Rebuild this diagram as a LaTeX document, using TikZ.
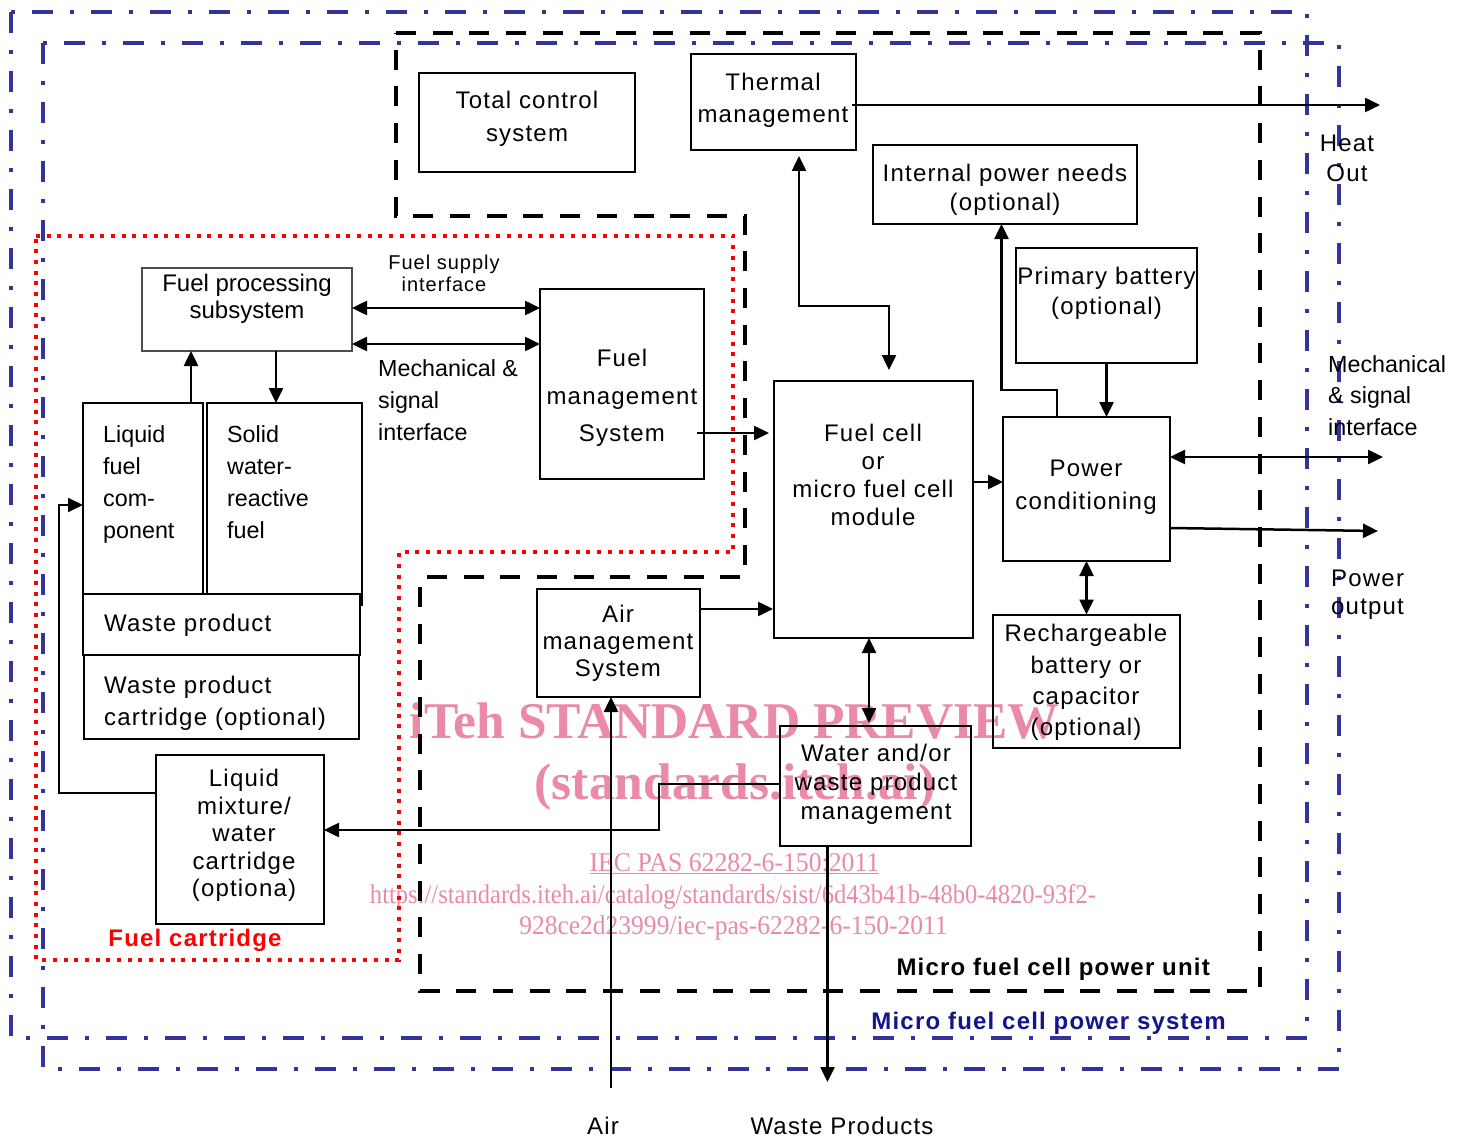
\documentclass[tikz,border=0pt]{standalone}
\usepackage{graphicx}
\usepackage{fontspec}
\setmainfont{Liberation Sans}[LetterSpace=5]
\newfontfamily\plainsf{Liberation Sans}
\newfontfamily\wmfont{Liberation Serif}
\usetikzlibrary{arrows.meta}
\definecolor{sysblue}{RGB}{51,51,153}
\definecolor{labelblue}{RGB}{20,20,140}
\definecolor{wmpink}{RGB}{234,138,168}
\definecolor{cartred}{RGB}{255,0,0}
\begin{document}
\begin{tikzpicture}[x=1pt,y=-1pt,
  box/.style={draw, line width=2pt, inner sep=0pt, outer sep=0pt},
  lbl/.style={inner sep=0pt, align=center, font=\fontsize{24}{#1}\selectfont},
  lbl/.default=32,
  lbll/.style={inner sep=0pt, align=left, font=\fontsize{24}{#1}\selectfont},
  lbll/.default=32,
  plbl/.style={inner sep=0pt, align=left, font=\plainsf\fontsize{23.3}{#1}\selectfont},
  plbl/.default=32,
  boldlbl/.style={inner sep=0pt, font=\bfseries\fontsize{24}{28}\selectfont},
  wmark/.style={inner sep=0pt, text=wmpink, anchor=base},
  arr/.style={line width=2.5pt, -{Triangle[length=15pt,width=14pt]}},
  dbl/.style={line width=2.5pt, {Triangle[length=15pt,width=14pt]}-{Triangle[length=15pt,width=14pt]}},
  sysline/.style={draw=sysblue, line width=4pt, dash pattern=on 21pt off 17pt on 4pt off 17pt},
  unitline/.style={draw=black, line width=4.5pt, dash pattern=on 20pt off 16.7pt},
  cartline/.style={draw=cartred, line width=4pt, dash pattern=on 4pt off 6.7pt}
]
\useasboundingbox (0,0) rectangle (1460,1137);
\fill[white] (0,0) rectangle (1460,1137);

% watermark
\node[wmark, font=\wmfont\bfseries\fontsize{51.5}{51.5}\selectfont] (wm1) at (734.5,738.5) {iTeh STANDARD PREVIEW};
\node[wmark, font=\wmfont\bfseries\fontsize{51.5}{51.5}\selectfont] (wm2) at (735,799) {(standards.iteh.ai)};
\node[wmark, font=\wmfont\fontsize{27}{27}\selectfont] (wm3) at (734.5,871) {\scalebox{0.953}[1]{\underline{IEC PAS 62282-6-150:2011}}};
\node[wmark, font=\wmfont\fontsize{27}{27}\selectfont] (wm4) at (733,903) {\scalebox{0.91}[1]{https://standards.iteh.ai/catalog/standards/sist/6d43b41b-48b0-4820-93f2-}};
\node[wmark, font=\wmfont\fontsize{27}{27}\selectfont] (wm5) at (733.5,934) {\scalebox{0.945}[1]{928ce2d23999/iec-pas-62282-6-150-2011}};

% boundaries
\draw[sysline] (11,12) rectangle (1307,1038);
\draw[sysline] (43,43) rectangle (1339,1069);
\draw[unitline] (396,33) -- (1260,33) -- (1260,991) -- (420,991) -- (420,577) -- (745,577) -- (745,216) -- (396,216) -- cycle;
\draw[cartline] (36,236) -- (733,236) -- (733,552) -- (399,552) -- (399,960) -- (36,960) -- cycle;

% boxes
\node[box, minimum width=216pt, minimum height=99pt] (tcs) at (527,122.5) {};
\node[box, minimum width=165pt, minimum height=96pt] (tm) at (773.5,102) {};
\node[box, minimum width=264pt, minimum height=79pt] (ipn) at (1005,184.5) {};
\node[box, minimum width=181pt, minimum height=115pt] (pb) at (1106.5,305.5) {};
\node[box, draw=black!70, line width=1.5pt, minimum width=210pt, minimum height=83pt] (fps) at (247,309.5) {};
\node[box, minimum width=164pt, minimum height=190pt] (fms) at (622,384) {};
\node[box, minimum width=199pt, minimum height=257pt] (fc) at (873.5,509.5) {};
\node[box, minimum width=167pt, minimum height=144pt] (pc) at (1086.5,489) {};
\node[box, minimum width=187pt, minimum height=133pt] (rb) at (1086.5,681) {};
\node[box, minimum width=163pt, minimum height=108pt] (ams) at (618.5,643) {};
\node[box, minimum width=191pt, minimum height=120pt] (wm) at (875.5,786) {};
\node[box, minimum width=120pt, minimum height=191pt] (lf) at (143,498.5) {};
\node[box, minimum width=155pt, minimum height=191pt] (sf) at (284.5,498.5) {};
\node[box, minimum width=277pt, minimum height=61pt] (wp) at (221.5,624.5) {};
\node[box, minimum width=275pt, minimum height=84pt] (wpc) at (221.5,697) {};
\node[box, minimum width=168pt, minimum height=169pt] (lm) at (240,839.5) {};
\draw[line width=2pt] (sf.south east) -- ++(0,12);

% box texts
\node[lbl=33] (tcs-t) at (527,119) {Total control\\system};
\node[lbl=32] (tm-t) at (773,100) {Thermal\\management};
\node[lbl=29] (ipn-t) at (1005,190) {Internal power needs\\(optional)};
\node[lbl=30] (pb-t) at (1106.5,293.5) {Primary battery\\(optional)};
\node[inner sep=0pt, align=center, font=\plainsf\fontsize{24}{27}\selectfont] (fps-t) at (247,299) {Fuel processing\\subsystem};
\node[lbl=37.5] (fms-t) at (622,398) {Fuel\\management\\System};
\node[lbl=28] (fc-t) at (873,475) {Fuel cell\\or\\micro fuel cell\\module};
\node[lbl=33] (pc-t) at (1086,487) {Power\\conditioning};
\node[lbl=31.3] (rb-t) at (1086,682.5) {Rechargeable\\battery or\\capacitor\\(optional)};
\node[lbl=27] (ams-t) at (618,643.5) {Air\\management\\System};
\node[lbl=29] (wm-t) at (876,784.5) {Water and/or\\waste product\\management};
\node[lbl=27.5] (lm-t) at (244,835.5) {Liquid\\mixture/\\water\\cartridge\\(optiona)};
\node[plbl=32, anchor=west] (lf-t) at (103,484.5) {Liquid\\fuel\\com-\\ponent};
\node[plbl=32, anchor=west] (sf-t) at (227,482) {Solid\\water-\\reactive\\fuel};
\node[lbll, anchor=base west] (wp-t) at (104,631.5) {Waste product};
\node[lbll=32, anchor=west] (wpc-t) at (104,703.5) {Waste product\\cartridge (optional)};

% outside labels
\node[lbl=30] (heat-t) at (1347,158) {Heat\\Out};
\node[plbl=31.5, anchor=west] (mech-r) at (1328,395.5) {Mechanical\\\& signal\\interface};
\node[lbll=28, anchor=west] (pout-t) at (1331,594.5) {Power\\output};
\node[inner sep=0pt, align=center, font=\fontsize{20}{22}\selectfont] (fsi-t) at (444,273) {Fuel supply\\interface};
\node[plbl=32, anchor=west] (mech-l) at (378,400) {Mechanical \&\\signal\\interface};
\node[lbl, anchor=base] (air-t) at (603,1134) {Air};
\node[lbl, anchor=base] (waste-t) at (842,1134.5) {Waste Products};
\node[boldlbl, anchor=base, text=cartred] (fcart) at (195,946.5) {Fuel cartridge};
\node[boldlbl, anchor=base east] (mfcpu) at (1210,975.5) {Micro fuel cell power unit};
\node[boldlbl, anchor=base east, text=labelblue] (mfcps) at (1226,1029.5) {Micro fuel cell power system};

% connectors
\coordinate (heat) at (1380,105);
\draw[arr, shorten <=-4pt] (tm.east |- heat) -- (heat);
\coordinate (t2a) at (799,306); \coordinate (t2b) at (889,306);
\draw[dbl, shorten <=6pt, shorten >=11pt] (tm.south -| t2a) -- (t2a) -- (t2b) -- (fc.north -| t2b);
\coordinate (t3a) at (1057,390); \coordinate (t3b) at (1001.5,390);
\draw[arr] (pc.north -| t3a) -- (t3a) -- (t3b) -- (ipn.south -| t3b);
\draw[arr] (pb.south) -- (pb.south |- pc.north);
\coordinate (t5) at (0,482);
\draw[arr] (fc.east |- t5) -- (pc.west |- t5);
\coordinate (mechout) at (1383,457);
\draw[dbl] (pc.east |- mechout) -- (mechout);
\coordinate (t7) at (0,528); \coordinate (powout) at (1378,531);
\draw[arr] (pc.east |- t7) -- (powout);
\draw[dbl] (pc.south) -- (rb.north);
\coordinate (t9) at (0,433);
\draw[arr, shorten <=-7pt, shorten >=5pt] (fms.east |- t9) -- (fc.west |- t9);
\coordinate (t10a) at (0,308); \coordinate (t10b) at (0,344);
\draw[dbl] (fps.east |- t10a) -- (fms.west |- t10a);
\draw[dbl] (fps.east |- t10b) -- (fms.west |- t10b);
\coordinate (t11) at (191,0);
\draw[arr] (lf.north -| t11) -- (fps.south -| t11);
\coordinate (t12) at (276,0);
\draw[arr] (fps.south -| t12) -- (sf.north -| t12);
\coordinate (t13a) at (59,793); \coordinate (t13b) at (59,505);
\draw[arr, line width=2pt] (lm.west |- t13a) -- (t13a) -- (t13b) -- (lf.west |- t13b);
\coordinate (t14a) at (659,784); \coordinate (t14b) at (659,830);
\draw[arr] (wm.west |- t14a) -- (t14a) -- (t14b) -- (lm.east |- t14b);
\coordinate (airin) at (611,1088);
\draw[arr] (airin) -- (ams.south -| airin);
\coordinate (t16) at (0,609);
\draw[arr, shorten >=1pt] (ams.east |- t16) -- (fc.west |- t16);
\coordinate (t17) at (869,0);
\draw[dbl, shorten >=3pt] (fc.south -| t17) -- (wm.north -| t17);
\coordinate (wout) at (827.5,1082);
\draw[arr] (wm.south -| wout) -- (wout);
\end{tikzpicture}
\end{document}
